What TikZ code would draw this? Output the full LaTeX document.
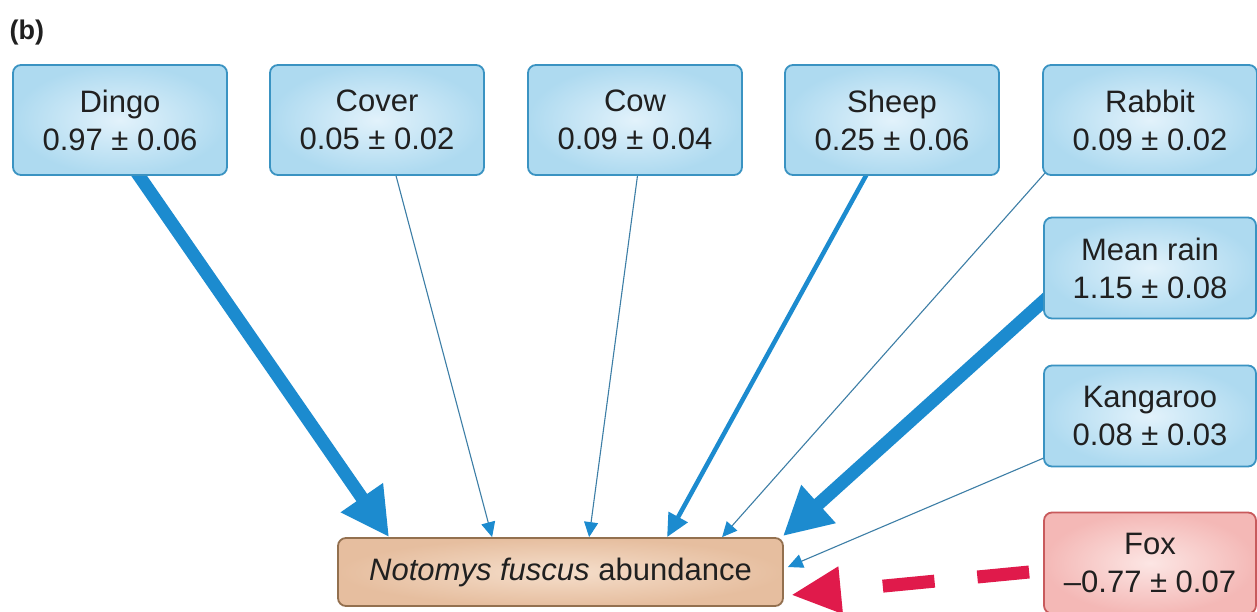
\documentclass[tikz,border=0pt]{standalone}
\usepackage{fontspec}
\setmainfont{Liberation Sans}
\usetikzlibrary{arrows.meta,calc}
\pgfdeclarelayer{bg}
\pgfsetlayers{bg,main}

\definecolor{blueedge}{HTML}{3A93C2}
\definecolor{bluein}{HTML}{E2F2FB}
\definecolor{blueout}{HTML}{AEDAF0}
\definecolor{rededge}{HTML}{C85A5C}
\definecolor{redin}{HTML}{FCE6E4}
\definecolor{redout}{HTML}{F4B8B6}
\definecolor{tanedge}{HTML}{93704F}
\definecolor{tanin}{HTML}{F5DECB}
\definecolor{tanout}{HTML}{E6BE9F}
\definecolor{arrowblue}{HTML}{1C8BCF}
\definecolor{thinline}{HTML}{3D7EA6}
\definecolor{foxred}{HTML}{E01A4B}
\definecolor{txt}{HTML}{202020}

\begin{document}
\begin{tikzpicture}[x=1pt,y=-1pt,
  var/.style={draw=blueedge, line width=1.8pt, rounded corners=8pt,
    inner color=bluein, outer color=blueout,
    minimum width=214pt, minimum height=110pt, align=center,
    font=\fontsize{31}{38}\selectfont, text=txt},
  sidevar/.style={var, minimum width=212pt, minimum height=101pt},
  negvar/.style={sidevar, draw=rededge, inner color=redin, outer color=redout},
  target/.style={draw=tanedge, line width=1.8pt, rounded corners=8pt,
    inner color=tanin, outer color=tanout,
    minimum width=445pt, minimum height=68pt,
    font=\fontsize{31}{38}\selectfont, text=txt},
  thinarrow/.style={draw=thinline, line width=1.1pt,
    -{Triangle[length=15pt,width=14pt,color=arrowblue]}},
  midarrow/.style={draw=arrowblue, line width=4.5pt,
    -{Triangle[length=23pt,width=21pt]}},
  boldarrow/.style={draw=arrowblue, line width=13pt,
    -{Triangle[length=48pt,width=48pt]}},
  foxarrow/.style={draw=foxred, line width=13pt, dash pattern=on 52pt off 43pt,
    -{Triangle[length=50pt,width=44pt]}}
]
\useasboundingbox (0,0) rectangle (1257,611);

\node[font=\bfseries\fontsize{27}{30}\selectfont, text=txt, anchor=base west]
  (panel) at (6,39) {(b)};

% predictor boxes along the top
\node[var] (dingo)  at (120,120)  {Dingo\\0.97 ± 0.06};
\node[var] (cover)  at (377,120)  {Cover\\0.05 ± 0.02};
\node[var] (cow)    at (635,120)  {Cow\\0.09 ± 0.04};
\node[var] (sheep)  at (892,120)  {Sheep\\0.25 ± 0.06};
\node[var] (rabbit) at (1150,120) {Rabbit\\0.09 ± 0.02};

% predictor boxes down the right side
\node[sidevar] (rain) at (1150,268) {Mean rain\\1.15 ± 0.08};
\node[sidevar] (kang) at (1150,416) {Kangaroo\\0.08 ± 0.03};
\node[negvar]  (fox)  at (1150,563) {Fox\\–0.77 ± 0.07};

% response box
\node[target] (nf) at (560.5,572) {\textit{Notomys fuscus} abundance};

% white page, then the path coefficients beneath the boxes
\begin{pgfonlayer}{bg}
\fill[white] (0,0) rectangle (1257,611);
\draw[boldarrow] ($(dingo.south)+(15,-6)$) -- ($(nf.north west)+(52,0)$);
\draw[thinarrow] ($(cover.south)+(18,-4)$) -- ($(nf.north west)+(155,0)$);
\draw[thinarrow] ($(cow.south)+(3,-4)$) -- ($(nf.north west)+(252,0)$);
\draw[midarrow]  ($(sheep.south)+(-24,-4)$) -- ($(nf.north west)+(330,0)$);
\draw[thinarrow] ($(rabbit.south west)+(3,-3)$) -- ($(nf.north west)+(385,0)$);
\draw[boldarrow] ($(rain.west)+(6,28)$) -- ($(nf.north east)+(-1,-1)$);
\draw[thinarrow] ($(kang.west)+(3,41)$) -- ($(nf.east)+(4,-5)$);
\draw[foxarrow]  ($(fox.west)+(-14,9)$) -- ($(nf.east)+(7,23)$);
\end{pgfonlayer}
\end{tikzpicture}
\end{document}
